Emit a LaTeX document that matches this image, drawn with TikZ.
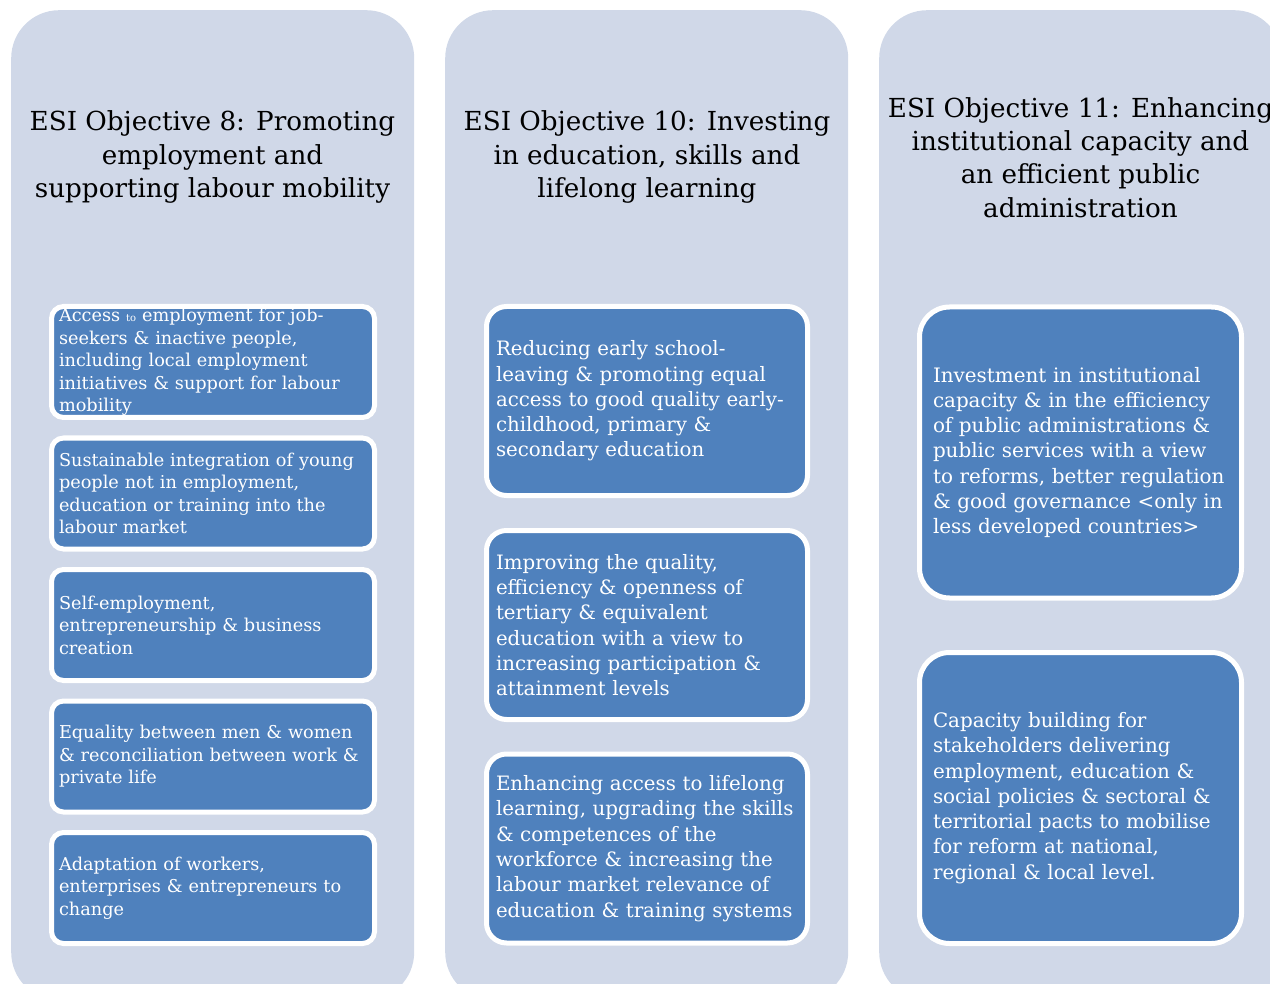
\documentclass[tikz,border=0pt]{standalone}
\usepackage{fontspec}
\setmainfont{DejaVu Serif}
\definecolor{panelgray}{HTML}{D0D8E8}
\definecolor{itemblue}{HTML}{4F81BD}
\begin{document}
\begin{tikzpicture}[x=1pt,y=-1pt,
    panel/.style={fill=panelgray, rounded corners=48pt, anchor=north west, inner sep=0pt,
        minimum width=403pt, minimum height=990pt},
    heading/.style={align=center, font=\fontsize{26.2}{33.2}\selectfont},
    item/.style={draw=white, line width=5pt, fill=itemblue, text=white, align=left, inner ysep=0pt},
    itemsmall/.style={item, rounded corners=12pt, minimum height=111pt, inner xsep=7.5pt,
        text width=308pt, font=\fontsize{17.7}{22.5}\selectfont},
    itemmid/.style={item, rounded corners=20pt, minimum height=189pt, inner xsep=9.5pt,
        text width=302pt, font=\fontsize{19.8}{25.3}\selectfont},
    itembig/.style={item, rounded corners=30pt, minimum height=291pt, inner xsep=13.5pt,
        text width=295pt, font=\fontsize{19.9}{25.3}\selectfont}]
    \useasboundingbox (0,0) rectangle (1270,984);
    \node[panel] (obj8) at (11,10) {};
    \node[panel] (obj10) at (445,10) {};
    \node[panel] (obj11) at (879,10) {};
    \node[heading] (head8) at (212.5,157) {ESI Objective 8: Promoting\\employment and\\supporting labour mobility};
    \node[heading] (head10) at (647,157) {ESI Objective 10: Investing\\in education, skills and\\lifelong learning};
    \node[heading] (head11) at (1080.5,157.5) {ESI Objective 11: Enhancing\\institutional capacity and\\an efficient public\\administration};
    \node[itemsmall] (access) at (213,362) {Access {\fontsize{10}{10}\selectfont to} employment for job-\\seekers \& inactive people,\\including local employment\\initiatives \& support for labour\\mobility};
    \node[itemsmall] (youth) at (213,493.5) {Sustainable integration of young\\people not in employment,\\education or training into the\\labour market};
    \node[itemsmall] (selfemp) at (213,625) {Self-employment,\\entrepreneurship \& business\\creation};
    \node[itemsmall] (equality) at (213,756.5) {Equality between men \& women\\\& reconciliation between work \&\\private life};
    \node[itemsmall] (adapt) at (213,888) {Adaptation of workers,\\enterprises \& entrepreneurs to\\change};
    \node[itemmid] (school) at (647,401) {Reducing early school-\\leaving \& promoting equal\\access to good quality early-\\childhood, primary \&\\secondary education};
    \node[itemmid] (tertiary) at (647,625) {Improving the quality,\\efficiency \& openness of\\tertiary \& equivalent\\education with a view to\\increasing participation \&\\attainment levels};
    \node[itemmid] (lifelong) at (647,848.5) {Enhancing access to lifelong\\learning, upgrading the skills\\\& competences of the\\workforce \& increasing the\\labour market relevance of\\education \& training systems};
    \node[itembig] (capacity) at (1080.5,452.5) {Investment in institutional\\capacity \& in the efficiency\\of public administrations \&\\public services with a view\\to reforms, better regulation\\\& good governance <only in\\less developed countries>};
    \node[itembig] (stakeholders) at (1080.5,798) {Capacity building for\\stakeholders delivering\\employment, education \&\\social policies \& sectoral \&\\territorial pacts to mobilise\\for reform at national,\\regional \& local level.};
\end{tikzpicture}
\end{document}
